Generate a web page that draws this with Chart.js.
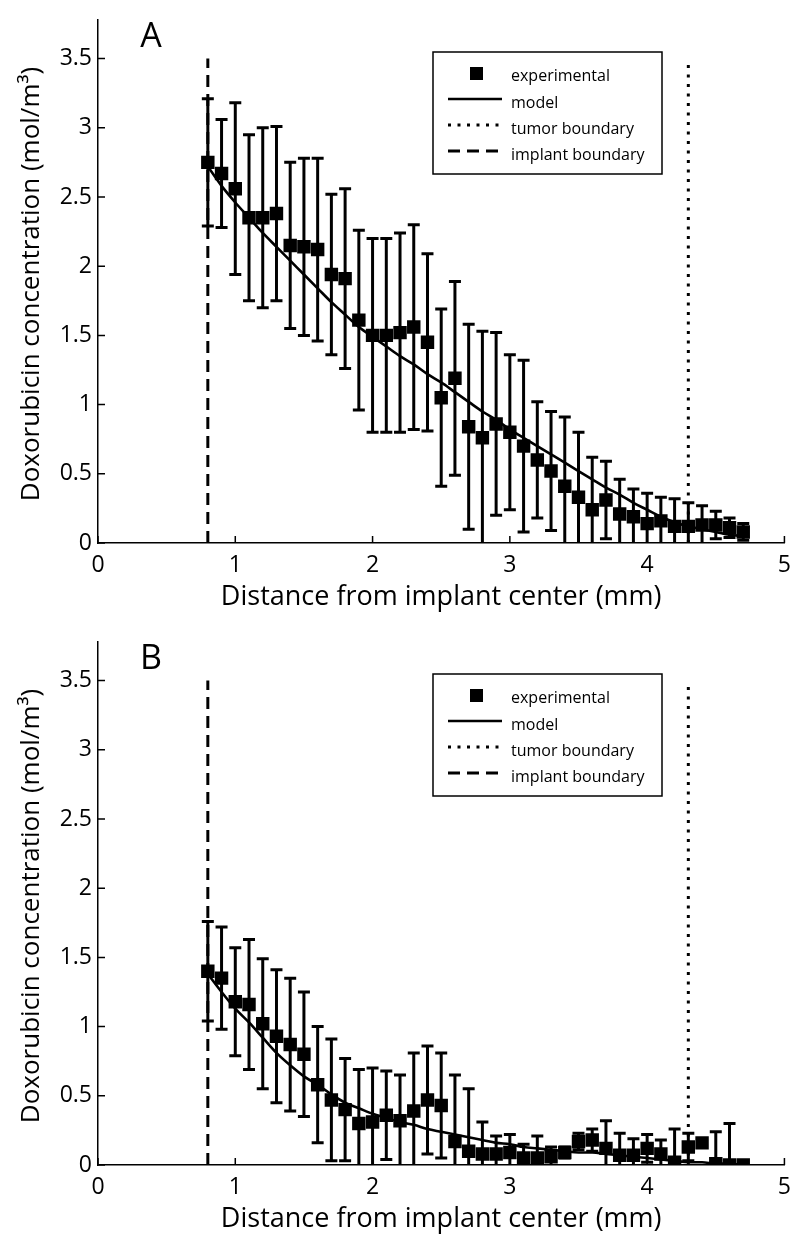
<!DOCTYPE html>
<html><head><meta charset="utf-8">
<script src="https://cdn.jsdelivr.net/npm/chart.js@4.4.1/dist/chart.umd.min.js"></script>
<style>
html,body{margin:0;padding:0;background:#fff;}
.panel{width:800px;height:622px;position:relative;}
canvas{display:block;}
</style>
</head><body>
<div class="panel"><canvas id="chartA" width="800" height="622"></canvas></div>
<div class="panel"><canvas id="chartB" width="800" height="622"></canvas></div>
<script>
// ---------- data ----------
const distance = [0.8,0.9,1.0,1.1,1.2,1.3,1.4,1.5,1.6,1.7,1.8,1.9,2.0,2.1,2.2,2.3,2.4,2.5,2.6,2.7,
                  2.8,2.9,3.0,3.1,3.2,3.3,3.4,3.5,3.6,3.7,3.8,3.9,4.0,4.1,4.2,4.3,4.4,4.5,4.6,4.7];

const expA = [2.75,2.67,2.56,2.35,2.35,2.38,2.15,2.14,2.12,1.94,1.91,1.61,1.50,1.50,1.52,1.56,1.45,1.05,1.19,0.84,
              0.76,0.86,0.80,0.70,0.60,0.52,0.41,0.33,0.24,0.31,0.21,0.19,0.14,0.16,0.12,0.12,0.13,0.13,0.11,0.08];
const errA = [0.46,0.39,0.62,0.60,0.65,0.63,0.60,0.64,0.66,0.58,0.65,0.65,0.70,0.70,0.72,0.74,0.64,0.64,0.70,0.74,
              0.77,0.66,0.56,0.62,0.42,0.43,0.50,0.47,0.38,0.28,0.25,0.20,0.22,0.17,0.20,0.17,0.14,0.10,0.07,0.06];
const modelA = [2.72,2.58,2.46,2.35,2.24,2.14,2.04,1.94,1.84,1.74,1.65,1.56,1.49,1.42,1.35,1.29,1.22,1.16,1.09,1.02,
                0.95,0.89,0.82,0.76,0.70,0.64,0.58,0.52,0.46,0.40,0.35,0.29,0.24,0.19,0.15,0.12,0.10,0.08,0.06,0.05];

const expB = [1.40,1.35,1.18,1.16,1.02,0.93,0.87,0.80,0.58,0.47,0.40,0.30,0.31,0.36,0.32,0.39,0.47,0.43,0.17,0.10,
              0.08,0.08,0.09,0.05,0.05,0.06,0.09,0.17,0.18,0.12,0.07,0.07,0.12,0.08,0.02,0.13,0.16,0.01,0.00,0.00];
const errB = [0.36,0.37,0.39,0.47,0.47,0.48,0.48,0.45,0.42,0.44,0.37,0.39,0.39,0.32,0.33,0.42,0.39,0.38,0.48,0.45,
              0.23,0.13,0.13,0.10,0.16,0.07,0.04,0.06,0.08,0.20,0.16,0.12,0.10,0.10,0.24,0.10,0.02,0.23,0.30,0.00];
const modelB = [1.38,1.25,1.13,1.03,0.92,0.81,0.72,0.64,0.58,0.51,0.45,0.41,0.37,0.34,0.31,0.29,0.26,0.24,0.22,0.20,
                0.18,0.16,0.15,0.13,0.12,0.11,0.10,0.09,0.09,0.08,0.07,0.06,0.05,0.04,0.03,0.02,0.02,0.01,0.01,0.00];

const xTicks = [0,1,2,3,4,5];
const yTicks = [0,0.5,1,1.5,2,2.5,3,3.5];
const implantBoundary = 0.8;
const tumorBoundary = 4.3;
const boundaryTop = 3.5;
const legendLabels = ['experimental','model','tumor boundary','implant boundary'];
const panelLetters = ['A','B'];
const xTitle = 'Distance from implant center (mm)';
const yTitle = 'Doxorubicin concentration (mol/m\u00B3)';

// ---------- styling ----------
const FONT = '"Open Sans", "Noto Sans", sans-serif';
const BLACK = '#000';

const errorBarPlugin = {
  id: 'errorBars',
  beforeDatasetsDraw(chart) {
    const ds = chart.data.datasets[0];
    const xs = chart.scales.x, ys = chart.scales.y, a = chart.chartArea, ctx = chart.ctx;
    ctx.save();
    ctx.beginPath(); ctx.rect(a.left, a.top, a.right - a.left, a.bottom - a.top); ctx.clip();
    ctx.strokeStyle = BLACK; ctx.lineWidth = 3; ctx.lineCap = 'butt';
    ds.data.forEach((p, i) => {
      const e = ds.errors[i];
      if (!e) return;
      const px = xs.getPixelForValue(p.x);
      const yt = ys.getPixelForValue(p.y + e), yb = ys.getPixelForValue(p.y - e);
      ctx.beginPath();
      ctx.moveTo(px, yt); ctx.lineTo(px, yb);
      ctx.moveTo(px - 6, yt); ctx.lineTo(px + 6, yt);
      ctx.moveTo(px - 6, yb); ctx.lineTo(px + 6, yb);
      ctx.stroke();
    });
    ctx.restore();
  }
};

const decoPlugin = {
  id: 'panelDeco',
  afterDraw(chart, args, opts) {
    const ctx = chart.ctx, xs = chart.scales.x, ys = chart.scales.y, a = chart.chartArea;
    ctx.save();
    // inward ticks
    ctx.strokeStyle = BLACK; ctx.lineWidth = 1.5;
    ctx.beginPath();
    xs.ticks.forEach(t => { const px = xs.getPixelForValue(t.value); ctx.moveTo(px, a.bottom); ctx.lineTo(px, a.bottom - 7); });
    ys.ticks.forEach(t => { const py = ys.getPixelForValue(t.value); ctx.moveTo(a.left, py); ctx.lineTo(a.left + 7, py); });
    ctx.stroke();
    // y axis title
    ctx.fillStyle = BLACK;
    ctx.save();
    ctx.translate(32, 284);
    ctx.rotate(-Math.PI / 2);
    ctx.font = '26px ' + FONT;
    ctx.textAlign = 'center'; ctx.textBaseline = 'middle';
    ctx.fillText(yTitle, 0, 0);
    ctx.restore();
    // panel letter
    ctx.font = '34px ' + FONT;
    ctx.textAlign = 'center'; ctx.textBaseline = 'middle';
    ctx.fillText(opts.letter, 151, 37);
    // legend
    const box = {l: 433, t: 52, r: 662, b: 174};
    ctx.fillStyle = '#fff';
    ctx.fillRect(box.l, box.t, box.r - box.l, box.b - box.t);
    ctx.strokeStyle = BLACK; ctx.lineWidth = 1.5;
    ctx.strokeRect(box.l, box.t, box.r - box.l, box.b - box.t);
    const rows = [75, 102, 128, 154];
    const ds = chart.data.datasets;
    ctx.font = '16px ' + FONT;
    ctx.textAlign = 'left'; ctx.textBaseline = 'middle';
    rows.forEach((ry, i) => {
      ctx.fillStyle = BLACK;
      if (i === 0) {
        ctx.fillRect(470, ry - 8, 13, 13);
      } else {
        ctx.save();
        ctx.strokeStyle = BLACK;
        ctx.lineWidth = ds[i].borderWidth;
        ctx.setLineDash(ds[i].borderDash || []);
        ctx.beginPath(); ctx.moveTo(448, ry - 3); ctx.lineTo(502, ry - 3); ctx.stroke();
        ctx.restore();
      }
      ctx.fillText(legendLabels[i], 511, ry + 1);
    });
    ctx.restore();
  }
};

function makeChart(id, exp, err, model, letter) {
  const pts = distance.map((x, i) => ({x: x, y: exp[i]}));
  const modelPts = distance.map((x, i) => ({x: x, y: model[i]}));
  return new Chart(document.getElementById(id), {
    type: 'scatter',
    data: {
      datasets: [
        {label: legendLabels[0], data: pts, errors: err, pointStyle: 'rect', pointRadius: 9.5,
         backgroundColor: BLACK, borderWidth: 0, showLine: false},
        {label: legendLabels[1], type: 'line', data: modelPts, borderColor: BLACK, borderWidth: 2.6,
         pointRadius: 0, showLine: true, fill: false, cubicInterpolationMode: 'monotone'},
        {label: legendLabels[2], type: 'line', data: [{x: tumorBoundary, y: 0}, {x: tumorBoundary, y: boundaryTop}],
         borderColor: BLACK, borderWidth: 3, borderDash: [3, 6.5], pointRadius: 0, showLine: true, fill: false},
        {label: legendLabels[3], type: 'line', data: [{x: implantBoundary, y: 0}, {x: implantBoundary, y: boundaryTop}],
         borderColor: BLACK, borderWidth: 3, borderDash: [12, 7], pointRadius: 0, showLine: true, fill: false}
      ]
    },
    options: {
      responsive: false, animation: false,
      layout: {padding: {top: 12, right: 13, left: 0, bottom: 0}},
      plugins: {legend: {display: false}, tooltip: {enabled: false}, panelDeco: {letter: letter}},
      scales: {
        x: {
          type: 'linear', min: 0, max: 5,
          afterBuildTicks: s => { s.ticks = xTicks.map(v => ({value: v})); },
          afterFit: s => { s.height = 79; },
          grid: {display: true, drawOnChartArea: false, drawTicks: false},
          border: {display: true, color: BLACK, width: 1.5},
          ticks: {color: BLACK, font: {family: FONT, size: 23}, padding: 9, maxRotation: 0,
                  callback: v => String(v)},
          title: {display: true, text: xTitle, color: BLACK, font: {family: FONT, size: 27},
                  padding: {top: 0, bottom: 8}}
        },
        y: {
          type: 'linear', min: 0, max: 3.78,
          afterBuildTicks: s => { s.ticks = yTicks.map(v => ({value: v})); },
          afterFit: s => { s.width = 98; },
          grid: {display: true, drawOnChartArea: false, drawTicks: false},
          border: {display: true, color: BLACK, width: 1.5},
          ticks: {color: BLACK, font: {family: FONT, size: 23}, padding: 6,
                  callback: v => String(v)},
          title: {display: false}
        }
      }
    },
    plugins: [errorBarPlugin, decoPlugin]
  });
}

makeChart('chartA', expA, errA, modelA, panelLetters[0]);
makeChart('chartB', expB, errB, modelB, panelLetters[1]);
</script>
</body></html>
